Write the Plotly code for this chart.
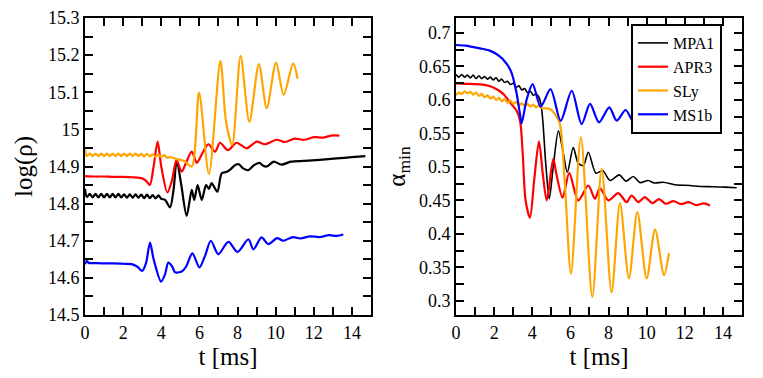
import plotly.graph_objects as go
from plotly.subplots import make_subplots

# left panel: log(rho) vs t [ms]
t_l_mpa1 = [0, 0.1, 0.25, 0.4, 0.55, 0.7, 0.85, 1.0, 1.15, 1.3, 1.45, 1.6, 1.75, 1.9, 2.05, 2.2, 2.35, 2.5,
            2.65, 2.8, 2.95, 3.1, 3.25, 3.4, 3.55, 3.7, 3.85, 4.0, 4.2, 4.46, 4.65, 4.81, 5.05, 5.33, 5.6, 5.73,
            5.91, 6.12, 6.35, 6.5, 6.64, 6.94, 7.17, 7.4, 7.6, 7.9, 8.07, 8.3, 8.56, 8.85, 9.14, 9.35, 9.53, 9.9,
            10.3, 10.8, 11.5, 12.3, 13.2, 14.0, 14.7]
v_l_mpa1 = [14.84, 14.818, 14.826, 14.817, 14.826, 14.817, 14.826, 14.817, 14.826, 14.817, 14.826, 14.817,
            14.826, 14.817, 14.825, 14.816, 14.825, 14.816, 14.825, 14.816, 14.824, 14.815, 14.824, 14.815,
            14.823, 14.814, 14.822, 14.813, 14.81, 14.79, 14.84, 14.917, 14.85, 14.767, 14.837, 14.81, 14.85,
            14.81, 14.85, 14.84, 14.855, 14.832, 14.882, 14.885, 14.891, 14.905, 14.906, 14.895, 14.89, 14.903,
            14.91, 14.902, 14.9, 14.913, 14.905, 14.913, 14.915, 14.918, 14.922, 14.925, 14.928]

t_l_apr3 = [0, 0.5, 1.0, 1.5, 2.0, 2.5, 3.0, 3.23, 3.4, 3.6, 3.81, 4.0, 4.32, 4.55, 4.8, 5.07, 5.3, 5.6, 5.86,
            6.15, 6.47, 6.82, 7.08, 7.5, 7.95, 8.48, 9.0, 9.44, 10.05, 10.5, 11.0, 11.5, 12.0, 12.5, 13.0, 13.34]
v_l_apr3 = [14.874, 14.873, 14.873, 14.872, 14.872, 14.871, 14.868, 14.86, 14.85, 14.9, 14.967, 14.9, 14.83,
            14.86, 14.917, 14.886, 14.91, 14.94, 14.91, 14.935, 14.96, 14.94, 14.964, 14.944, 14.964, 14.949,
            14.967, 14.96, 14.972, 14.966, 14.975, 14.972, 14.979, 14.978, 14.984, 14.983]

t_l_sly = [0, 0.1, 0.25, 0.4, 0.55, 0.7, 0.85, 1.0, 1.15, 1.3, 1.45, 1.6, 1.75, 1.9, 2.05, 2.2, 2.35, 2.5, 2.65,
           2.8, 2.95, 3.1, 3.25, 3.4, 3.55, 3.7, 3.85, 4.0, 4.15, 4.3, 4.5, 4.8, 5.2, 5.6, 5.98, 6.5, 7.1, 7.4,
           7.72, 8.16, 8.62, 9.12, 9.53, 10.02, 10.42, 10.92, 11.15]
v_l_sly = [14.945, 14.928, 14.935, 14.928, 14.935, 14.928, 14.935, 14.928, 14.935, 14.928, 14.935, 14.928,
           14.935, 14.928, 14.935, 14.928, 14.935, 14.928, 14.935, 14.928, 14.934, 14.927, 14.934, 14.927,
           14.933, 14.926, 14.932, 14.925, 14.931, 14.924, 14.925, 14.92, 14.915, 14.90, 15.099, 14.88, 15.184,
           15.02, 14.958, 15.198, 15.02, 15.176, 15.057, 15.18, 15.093, 15.178, 15.136]

t_l_ms1b = [0, 0.1, 0.2, 0.4, 1.0, 1.5, 2.0, 2.45, 2.75, 3.0, 3.2, 3.41, 3.6, 3.99, 4.2, 4.37, 4.58, 4.72, 5.07,
            5.3, 5.63, 6.0, 6.3, 6.6, 6.99, 7.52, 8.0, 8.57, 8.83, 9.26, 9.61, 10.08, 10.4, 10.9, 11.3, 11.8,
            12.3, 12.8, 13.2, 13.55]
v_l_ms1b = [14.637, 14.646, 14.64, 14.64, 14.639, 14.639, 14.638, 14.637, 14.63, 14.619, 14.64, 14.695, 14.65,
            14.59, 14.61, 14.641, 14.63, 14.615, 14.617, 14.63, 14.666, 14.628, 14.66, 14.70, 14.664, 14.697,
            14.67, 14.704, 14.677, 14.709, 14.691, 14.707, 14.70, 14.71, 14.706, 14.712, 14.71, 14.715, 14.713,
            14.717]

# right panel: alpha_min vs t [ms]
t_r_mpa1 = [0, 0.15, 0.3, 0.45, 0.6, 0.75, 0.9, 1.05, 1.2, 1.35, 1.5, 1.65, 1.8, 1.95, 2.1, 2.25, 2.4, 2.55,
            2.7, 2.85, 3.0, 3.15, 3.3, 3.45, 3.6, 3.75, 3.9, 4.05, 4.2, 4.35, 4.45, 4.55, 4.72, 4.89, 5.1, 5.37,
            5.6, 5.84, 6.15, 6.41, 6.68, 6.94, 7.34, 7.69, 8.08, 8.56, 8.91, 9.3, 9.65, 10.08, 10.4, 10.87,
            11.48, 12.27, 12.8, 13.5, 14.1, 14.72]
v_r_mpa1 = [0.638, 0.634, 0.638, 0.634, 0.637, 0.633, 0.637, 0.632, 0.636, 0.632, 0.635, 0.631, 0.634, 0.630,
            0.633, 0.628, 0.631, 0.626, 0.628, 0.623, 0.625, 0.619, 0.621, 0.615, 0.617, 0.611, 0.613, 0.607,
            0.609, 0.604, 0.595, 0.57, 0.50, 0.4525, 0.50, 0.554, 0.525, 0.492, 0.529, 0.5055, 0.502, 0.522,
            0.4906, 0.4946, 0.4798, 0.4882, 0.4788, 0.4857, 0.4766, 0.4798, 0.476, 0.4772, 0.4733, 0.4723,
            0.4708, 0.4705, 0.4698, 0.469]

t_r_apr3 = [0, 0.5, 1.0, 1.5, 1.96, 2.48, 2.83, 3.18, 3.36, 3.5, 3.65, 3.88, 4.1, 4.35, 4.55, 4.76, 5.1, 5.28,
            5.59, 5.94, 6.41, 6.94, 7.29, 7.55, 7.99, 8.51, 8.95, 9.21, 9.56, 9.9, 10.3, 10.65, 11.0, 11.4, 11.8,
            12.2, 12.6, 13.0, 13.32]
v_r_apr3 = [0.6246, 0.624, 0.6236, 0.6225, 0.6186, 0.609, 0.5963, 0.584, 0.569, 0.52, 0.45, 0.4242, 0.48,
            0.5383, 0.49, 0.45, 0.512, 0.4872, 0.454, 0.4912, 0.45, 0.4723, 0.4525, 0.4684, 0.45, 0.4609, 0.4475,
            0.4574, 0.4475, 0.455, 0.446, 0.452, 0.445, 0.449, 0.4445, 0.4475, 0.443, 0.4455, 0.4426]

t_r_sly = [0, 0.15, 0.3, 0.45, 0.6, 0.75, 0.9, 1.05, 1.2, 1.35, 1.5, 1.65, 1.8, 1.95, 2.1, 2.25, 2.4, 2.55, 2.7,
           2.85, 3.0, 3.15, 3.3, 3.45, 3.6, 3.75, 3.9, 4.05, 4.2, 4.35, 4.5, 4.93, 5.19, 5.45, 5.7, 6.03, 6.55,
           7.15, 7.64, 8.16, 8.6, 9.07, 9.51, 10.0, 10.44, 10.91, 11.17]
v_r_sly = [0.607, 0.611, 0.609, 0.613, 0.610, 0.612, 0.608, 0.611, 0.606, 0.609, 0.604, 0.607, 0.602, 0.605,
           0.600, 0.603, 0.598, 0.601, 0.596, 0.599, 0.594, 0.597, 0.592, 0.595, 0.591, 0.594, 0.590, 0.593,
           0.589, 0.592, 0.588, 0.5864, 0.579, 0.564, 0.48, 0.3409, 0.5442, 0.3061, 0.4972, 0.3127, 0.4461,
           0.3335, 0.4326, 0.3335, 0.4064, 0.3384, 0.3716]

t_r_ms1b = [0, 0.5, 1.26, 1.73, 2.1, 2.45, 2.88, 3.15, 3.35, 3.44, 3.7, 4.02, 4.44, 4.96, 5.49, 6.07, 6.59,
            7.03, 7.5, 8.04, 8.43, 8.9, 9.3, 9.65, 10.0, 10.56, 10.9, 11.3, 11.7, 12.1, 12.5, 12.9, 13.2, 13.55]
v_r_ms1b = [0.682, 0.681, 0.677, 0.674, 0.669, 0.661, 0.643, 0.614, 0.58, 0.565, 0.60, 0.6237, 0.590, 0.616,
            0.569, 0.6137, 0.564, 0.594, 0.5666, 0.589, 0.569, 0.585, 0.568, 0.578, 0.569, 0.573, 0.569, 0.572,
            0.5695, 0.571, 0.569, 0.5705, 0.568, 0.5676]

names = ['MPA1', 'APR3', 'SLy', 'MS1b']
colors = ['black', '#ff0000', '#ffa500', '#0000ff']
left = [(t_l_mpa1, v_l_mpa1), (t_l_apr3, v_l_apr3), (t_l_sly, v_l_sly), (t_l_ms1b, v_l_ms1b)]
right = [(t_r_mpa1, v_r_mpa1), (t_r_apr3, v_r_apr3), (t_r_sly, v_r_sly), (t_r_ms1b, v_r_ms1b)]

FONT = 'Times New Roman, Liberation Serif, DejaVu Serif, serif'
W, H = 763, 378
OFF = 8  # the page body margin shifts the figure by 8px


def px_x(a, b):
    return [(a - OFF) / W, (b - OFF) / W]


def px_y(top, bottom):
    return [1 - (bottom - OFF) / H, 1 - (top - OFF) / H]


fig = make_subplots(rows=1, cols=2)

for i, name in enumerate(names):
    x, y = left[i]
    fig.add_trace(go.Scatter(x=x, y=y, mode='lines', name=name, showlegend=False,
                             line=dict(color=colors[i], width=2.2, shape='spline', smoothing=0.8)),
                  row=1, col=1)
for i, name in enumerate(names):
    x, y = right[i]
    fig.add_trace(go.Scatter(x=x, y=y, mode='lines', name=name,
                             line=dict(color=colors[i], width=1.6 if i == 0 else 2.2,
                                       shape='spline', smoothing=0.8)),
                  row=1, col=2)

axis_style = dict(showline=True, linecolor='black', linewidth=2, mirror='allticks', ticks='inside',
                  ticklen=8, tickwidth=1.5, tickcolor='black', showgrid=False, zeroline=False,
                  automargin=False, tickfont=dict(family=FONT, size=18, color='black'))
minor_style = dict(ticks='inside', ticklen=8, tickcolor='black', tickwidth=1.5, showgrid=False)
title_font = dict(family=FONT, size=25, color='black')

fig.update_xaxes(axis_style)
fig.update_yaxes(axis_style)

fig.update_xaxes(range=[0, 15], dtick=2, tick0=0, domain=px_x(85, 371),
                 minor=dict(dtick=1, **minor_style),
                 title=dict(text='t [ms]', font=title_font, standoff=4),
                 row=1, col=1)
fig.update_xaxes(range=[0, 15], dtick=2, tick0=0, domain=px_x(456, 742),
                 minor=dict(dtick=1, **minor_style),
                 title=dict(text='t [ms]', font=title_font, standoff=4),
                 row=1, col=2)
fig.update_yaxes(range=[14.5, 15.3], dtick=0.1, tick0=14.5, domain=px_y(18, 315),
                 minor=dict(dtick=0.05, **minor_style),
                 title=dict(text='log(ρ)', font=title_font, standoff=8),
                 row=1, col=1)
fig.update_yaxes(range=[0.279, 0.7223], dtick=0.05, tick0=0.3, domain=px_y(18, 315),
                 minor=dict(dtick=0.025, **minor_style),
                 title=dict(text='α<sub>min</sub>', font=title_font, standoff=6),
                 row=1, col=2)

fig.update_layout(
    width=W, height=H,
    margin=dict(l=0, r=0, t=0, b=0),
    paper_bgcolor='white', plot_bgcolor='white',
    legend=dict(x=(631 - OFF) / W, y=1 - (24 - OFF) / H, xanchor='left', yanchor='top',
                bgcolor='white', bordercolor='black', borderwidth=2,
                font=dict(family=FONT, size=16, color='black'),
                tracegroupgap=0, itemwidth=30),
)

fig.write_html("out.html")
